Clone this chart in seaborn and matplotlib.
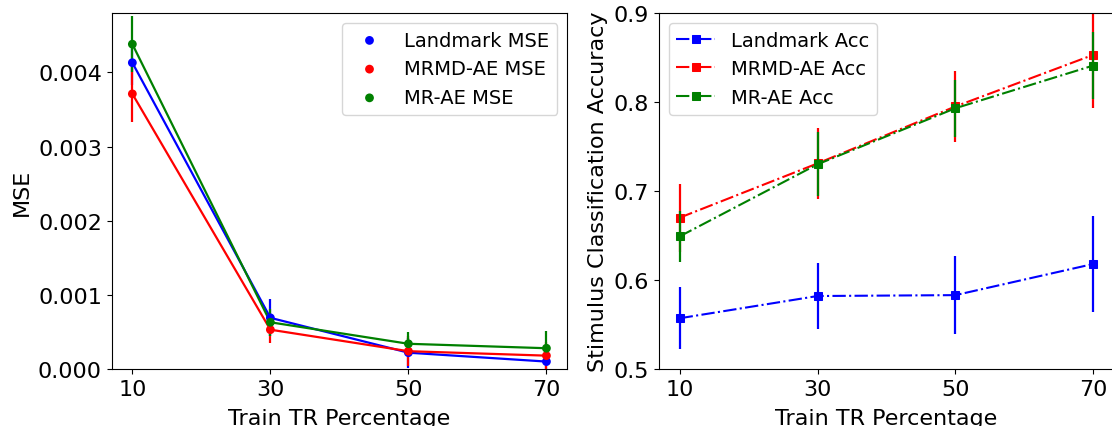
import matplotlib
matplotlib.use("Agg")
import matplotlib.pyplot as plt
import pandas as pd
import seaborn as sns

train_pct = [10, 30, 50, 70]

mse_landmark = [0.00413, 0.00069, 0.00022, 0.00010]
mse_landmark_err = [0.0003, 0.00025, 0.0002, 0.0001]
mse_mrmd = [0.00371, 0.00053, 0.00024, 0.00018]
mse_mrmd_err = [0.00038, 0.00018, 0.0002, 0.00018]
mse_mrae = [0.00438, 0.00063, 0.00034, 0.00028]
mse_mrae_err = [0.00038, 0.00018, 0.00016, 0.00023]

acc_landmark = [0.557, 0.582, 0.583, 0.618]
acc_landmark_err = [0.035, 0.037, 0.044, 0.054]
acc_mrmd = [0.670, 0.731, 0.795, 0.853]
acc_mrmd_err = [0.038, 0.040, 0.040, 0.060]
acc_mrae = [0.649, 0.730, 0.793, 0.841]
acc_mrae_err = [0.029, 0.036, 0.032, 0.038]

mse_series = [
    ("Landmark MSE", mse_landmark, mse_landmark_err, "blue"),
    ("MRMD-AE MSE", mse_mrmd, mse_mrmd_err, "red"),
    ("MR-AE MSE", mse_mrae, mse_mrae_err, "green"),
]
acc_series = [
    ("Landmark Acc", acc_landmark, acc_landmark_err, "blue"),
    ("MRMD-AE Acc", acc_mrmd, acc_mrmd_err, "red"),
    ("MR-AE Acc", acc_mrae, acc_mrae_err, "green"),
]

plt.rcParams["font.size"] = 16

fig = plt.figure(figsize=(11.12, 4.27), dpi=100)
ax1 = fig.add_axes([0.1004, 0.1335, 0.4096, 0.8337])
ax2 = fig.add_axes([0.5926, 0.1335, 0.4092, 0.8337])

# left: MSE
for label, vals, err, color in mse_series:
    df = pd.DataFrame({"pct": train_pct, "val": vals})
    sns.scatterplot(data=df, x="pct", y="val", color=color, s=40,
                    edgecolor="none", label=label, ax=ax1, zorder=3)
    sns.lineplot(data=df, x="pct", y="val", color=color, linewidth=1.6,
                 ax=ax1, legend=False)
    ax1.errorbar(train_pct, vals, yerr=err, fmt="none", ecolor=color,
                 elinewidth=1.6)

ax1.set_xticks(train_pct)
ax1.set_ylim(0, 0.0048)
ax1.set_yticks([0, 0.001, 0.002, 0.003, 0.004])
ax1.set_yticklabels(["0.000", "0.001", "0.002", "0.003", "0.004"])
ax1.set_xlabel("Train TR Percentage", labelpad=7)
ax1.set_ylabel("MSE")
ax1.legend(loc="upper right", fontsize=14)

# right: accuracy
for label, vals, err, color in acc_series:
    df = pd.DataFrame({"pct": train_pct, "val": vals})
    sns.lineplot(data=df, x="pct", y="val", color=color, linestyle="-.",
                 marker="s", markersize=6, markeredgecolor=color,
                 linewidth=1.5, label=label, ax=ax2)
    ax2.errorbar(train_pct, vals, yerr=err, fmt="none", ecolor=color,
                 elinewidth=1.6)

ax2.set_xticks(train_pct)
ax2.set_ylim(0.5, 0.9)
ax2.set_yticks([0.5, 0.6, 0.7, 0.8, 0.9])
ax2.set_xlabel("Train TR Percentage", labelpad=7)
ax2.set_ylabel("Stimulus Classification Accuracy")
leg = ax2.legend(loc="upper left", fontsize=14)
for ln in leg.get_lines():
    ln.set_linestyle("-.")

fig.savefig("out.png", dpi=100)
